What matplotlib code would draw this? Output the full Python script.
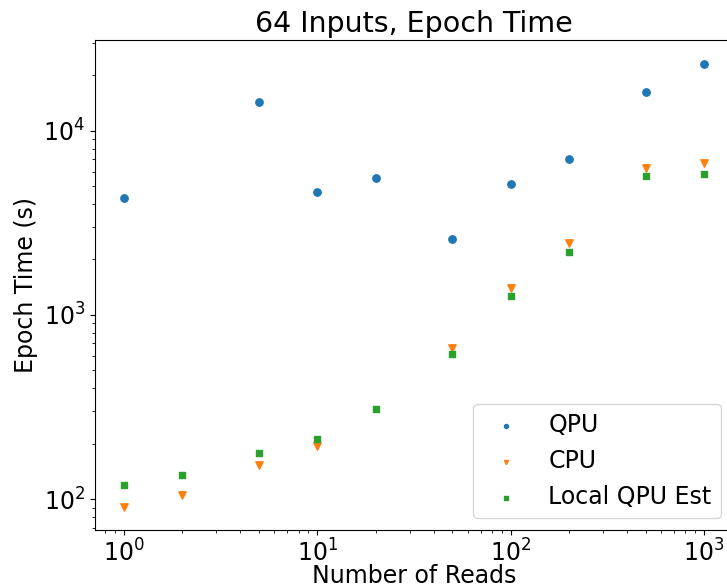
import matplotlib
matplotlib.use("Agg")
import matplotlib.pyplot as plt

reads_qpu = [1, 5, 10, 20, 50, 100, 200, 500, 1000]
time_qpu = [4300, 14300, 4630, 5520, 2580, 5110, 7060, 16250, 23100]

reads_cpu = [1, 2, 5, 10, 50, 100, 200, 500, 1000]
time_cpu = [91, 106, 153, 194, 665, 1393, 2462, 6285, 6680]

reads_est = [1, 2, 5, 10, 20, 50, 100, 200, 500, 1000]
time_est = [120, 135, 179, 211, 310, 615, 1268, 2198, 5640, 5807]

plt.rcParams['font.size'] = 17

fig = plt.figure(figsize=(7.27, 5.88), dpi=100)
ax = fig.add_axes([95 / 727, 58 / 588, 638 / 727, 490 / 588])

ax.scatter(reads_qpu, time_qpu, s=28, marker='o', label='QPU')
ax.scatter(reads_cpu, time_cpu, s=28, marker='v', label='CPU')
ax.scatter(reads_est, time_est, s=24, marker='s', label='Local QPU Est')

ax.set_xscale('log')
ax.set_yscale('log')
ax.set_xlim(10 ** -0.15, 10 ** 3.15)
ax.set_ylim(10 ** 1.833, 10 ** 4.492)

ax.set_title('64 Inputs, Epoch Time', fontsize=20.5)
ax.set_xlabel('Number of Reads', labelpad=-2)
ax.set_ylabel('Epoch Time (s)')
ax.legend(loc='lower right', markerscale=0.55)

fig.savefig('out.png', dpi=100)
